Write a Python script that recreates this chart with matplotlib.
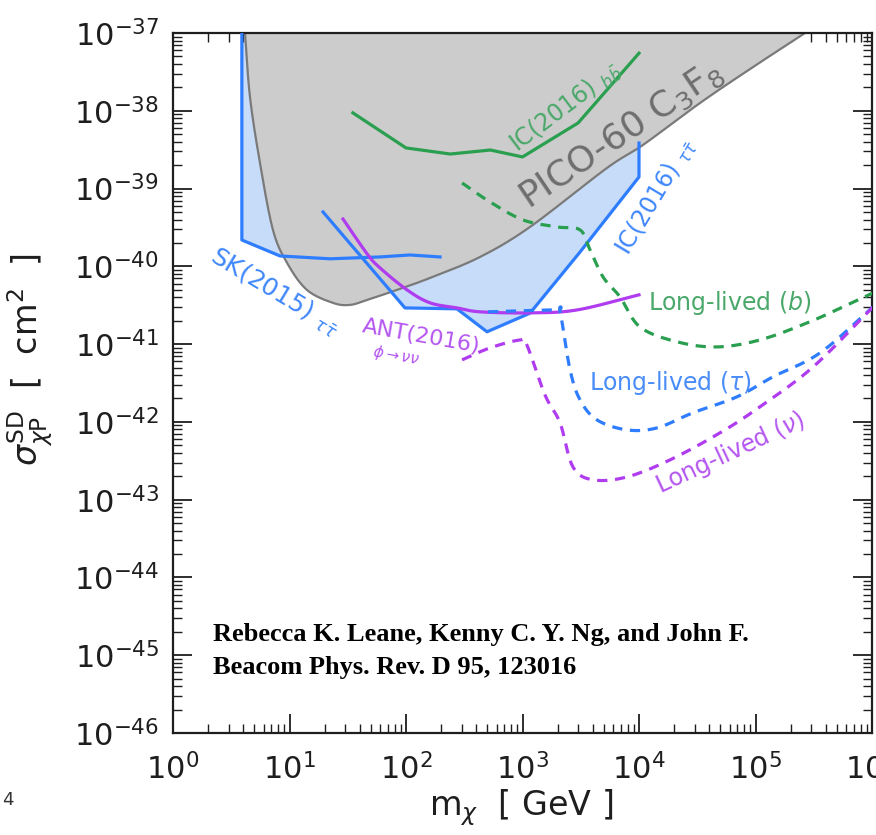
import numpy as np
import matplotlib
matplotlib.use("Agg")
import matplotlib.pyplot as plt
from matplotlib.ticker import LogLocator, NullFormatter

# ---------------- data ----------------
pico_m = [4.15, 4.58, 5.58, 7.21, 9.52, 14.1, 23.6, 33.0, 46.3, 83.7, 161, 432, 1160,
          5310, 10800, 33400, 89700, 266000]
pico_s = [1e-37, 1.50e-38, 2.13e-39, 2.94e-40, 1.11e-40, 4.98e-41, 3.39e-41, 3.19e-41,
          3.70e-41, 4.98e-41, 7.10e-41, 1.32e-40, 3.21e-40, 1.84e-39, 3.63e-39, 1.26e-38,
          3.44e-38, 1e-37]

sk_m = [3.9, 3.9, 8.29, 22.3, 59.8, 108, 196]
sk_s = [1e-37, 2.18e-40, 1.36e-40, 1.25e-40, 1.32e-40, 1.40e-40, 1.32e-40]

ictau_m = [19.4, 98, 274, 496, 1160, 3120, 1e4, 1e4]
ictau_s = [5.0e-40, 2.92e-41, 2.84e-41, 1.44e-41, 2.5e-41, 1.53e-40, 1.41e-39, 3.85e-39]

icbb_m = [35, 100, 240, 530, 1000, 3000, 1e4]
icbb_s = [9.4e-39, 3.33e-39, 2.78e-39, 3.13e-39, 2.55e-39, 6.97e-39, 5.5e-38]

ant_m = [28.8, 46.3, 59.8, 102, 161, 274, 432, 1160, 2940, 1e4]
ant_s = [4.06e-40, 1.45e-40, 9.55e-41, 4.98e-41, 3.39e-41, 2.92e-41, 2.6e-41, 2.52e-41,
         2.75e-41, 4.30e-41]

llb_m = [303, 526, 1010, 1980, 3120, 3800, 4910, 6870, 10200, 21200, 46700, 109000,
         277000, 564000, 1.02e6]
llb_s = [1.18e-39, 6.73e-40, 3.95e-40, 3.21e-40, 2.94e-40, 1.63e-40, 7.31e-41, 4.04e-41,
         1.66e-41, 1.07e-41, 9.2e-42, 1.13e-41, 1.87e-41, 3.01e-41, 4.55e-41]

lltau_m = [506, 1900, 2100, 2560, 3120, 4360, 7890, 14300, 29100, 69300, 141000, 358000, 1.02e6]
lltau_s = [2.6e-41, 2.75e-41, 2.6e-41, 4.67e-42, 1.92e-42, 1.06e-42, 7.89e-43, 8.38e-43,
           1.31e-42, 2.1e-42, 3.79e-42, 7.71e-42, 3.0e-41]

llnu_m = [303, 526, 952, 1090, 1560, 2100, 2710, 4030, 7890, 18500, 49600, 109000, 312000, 1.02e6]
llnu_s = [6.27e-42, 8.94e-42, 1.13e-41, 9.77e-42, 2.22e-42, 9.7e-43, 2.64e-43, 1.8e-43,
          1.96e-43, 3.25e-43, 7.23e-43, 1.56e-42, 5.09e-42, 3.0e-41]

xlim = (1, 1e6)
ylim = (1e-46, 1e-37)


def smooth(xs, ys, n=24):
    """Catmull-Rom curve through the points, in log-log space."""
    lx = np.log10(np.asarray(xs, float)); ly = np.log10(np.asarray(ys, float))
    P = np.column_stack([lx, ly])
    P = np.vstack([2*P[0]-P[1], P, 2*P[-1]-P[-2]])
    out = []
    t = np.linspace(0, 1, n, endpoint=False)[:, None]
    for i in range(1, len(P)-2):
        p0, p1, p2, p3 = P[i-1], P[i], P[i+1], P[i+2]
        seg = 0.5*((2*p1) + (-p0+p2)*t + (2*p0-5*p1+4*p2-p3)*t**2 + (-p0+3*p1-3*p2+p3)*t**3)
        out.append(seg)
    out.append(P[-2][None, :])
    out = np.vstack(out)
    return 10**out[:, 0], 10**out[:, 1]


# ---------------- style ----------------
BLUE = "#2f7dff"
LBLUE = "#c6dcf8"
GREEN = "#2a9f4f"
PURPLE = "#b03cf0"
GRAYF = "#cccccc"
GRAYE = "#7a7a7a"
INK = "#1e1e1e"

fig = plt.figure(figsize=(8.76, 8.35), dpi=100)
ax = fig.add_axes([173/876, 1-733/835, 699/876, 700/835])
ax.set_xscale("log")
ax.set_yscale("log")
ax.set_xlim(*xlim)
ax.set_ylim(*ylim)

# blue SK/IC excluded region (lower envelope of SK and IC tau lines)
lsk_m = np.log10(sk_m[1:]); lsk_s = np.log10(sk_s[1:])
lic_m = np.log10(ictau_m[:-1]); lic_s = np.log10(ictau_s[:-1])
grid = np.linspace(lsk_m[0], lic_m[-1], 800)
low = np.full_like(grid, np.inf)
msk = (grid >= lsk_m[0]) & (grid <= lsk_m[-1])
low[msk] = np.interp(grid[msk], lsk_m, lsk_s)
mic = (grid >= lic_m[0]) & (grid <= lic_m[-1])
low[mic] = np.minimum(low[mic], np.interp(grid[mic], lic_m, lic_s))
ax.fill_between(10**grid, 10**low, ylim[1], color=LBLUE, lw=0, zorder=1)

# PICO-60 region
pm, ps = smooth(pico_m, pico_s)
ax.fill_between(pm, ps, ylim[1], color=GRAYF, lw=0, zorder=2)
ax.plot(pm, ps, color=GRAYE, lw=1.6, zorder=2.5)

lw = 2.3
ax.plot(sk_m, sk_s, color=BLUE, lw=lw, zorder=3)
ax.plot(ictau_m, ictau_s, color=BLUE, lw=lw, zorder=3)
ax.plot(icbb_m, icbb_s, color=GREEN, lw=lw, zorder=3)
ax.plot(*smooth(ant_m, ant_s), color=PURPLE, lw=lw, zorder=3)
dash = (3.2, 2.4)
ax.plot(*smooth(llb_m, llb_s, 10), color=GREEN, lw=lw, dashes=dash, zorder=3)
ax.plot(*smooth(lltau_m, lltau_s, 10), color=BLUE, lw=lw, dashes=dash, zorder=3)
ax.plot(*smooth(llnu_m, llnu_s, 10), color=PURPLE, lw=lw, dashes=dash, zorder=3)

# ticks
for axis in (ax.xaxis, ax.yaxis):
    axis.set_major_locator(LogLocator(base=10, numticks=30))
    axis.set_minor_locator(LogLocator(base=10, subs=np.arange(2, 10), numticks=300))
    axis.set_minor_formatter(NullFormatter())
ax.tick_params(which="both", direction="in", top=True, right=True, color=INK)
ax.tick_params(which="major", length=14, width=1.3, labelsize=22, labelcolor=INK)
ax.tick_params(axis="x", which="major", pad=14)
ax.tick_params(axis="y", which="major", pad=10)
ax.tick_params(which="minor", length=6.5, width=1.0)
for sp in ax.spines.values():
    sp.set_linewidth(1.6)
    sp.set_color(INK)

# labels
fig.text(521/876, 1-808/835, r"m$_\chi$  [ GeV ]", fontsize=24, ha="center", va="center", color=INK)
fig.text(30/876, 1-360/835, r"$\sigma^{\mathrm{SD}}_{\chi\mathrm{P}}$  [  cm$^2$  ]", fontsize=24,
         rotation=90, ha="center", va="center", color=INK)
fig.text(2/876, 1-800/835, "4", fontsize=13, ha="left", va="center", color="#333333")


def at(x, y, s, color, size, rot=0, alpha=1.0):
    ax.text(x, y, s, transform=ax.transAxes, color=color, fontsize=size, rotation=rot,
            rotation_mode="anchor", ha="center", va="center", alpha=alpha, zorder=5)


at(0.641, 0.854, r"PICO-60 C$_3$F$_8$", "#6e6e6e", 26, 34)
at(0.561, 0.893, r"IC(2016) $_{b\bar{b}}$", "#4aa86a", 17, 37)
at(0.692, 0.766, r"IC(2016) $_{\tau\bar{\tau}}$", "#3f87fb", 17, 59)
at(0.146, 0.630, r"SK(2015) $_{\tau\bar{\tau}}$", "#3f87fb", 18, -31)
at(0.355, 0.566, r"ANT(2016)", "#b455f0", 16, -10)
at(0.319, 0.539, r"$\phi\rightarrow\nu\nu$", "#b455f0", 11, -10)
at(0.797, 0.614, r"Long-lived ($b$)", "#4aa86a", 17)
at(0.711, 0.500, r"Long-lived ($\tau$)", "#4a8cf8", 17)
at(0.797, 0.400, r"Long-lived ($\nu$)", "#b455f0", 17, 25)

cite_kw = dict(transform=ax.transAxes, fontsize=19, fontweight="bold",
               family=["Liberation Serif", "DejaVu Serif"], ha="left", va="center", zorder=5)
ax.text(0.057, 0.140, "Rebecca K. Leane, Kenny C. Y. Ng, and John F.", **cite_kw)
ax.text(0.057, 0.094, "Beacom Phys. Rev. D 95, 123016", **cite_kw)

fig.savefig("out.png", dpi=100)
